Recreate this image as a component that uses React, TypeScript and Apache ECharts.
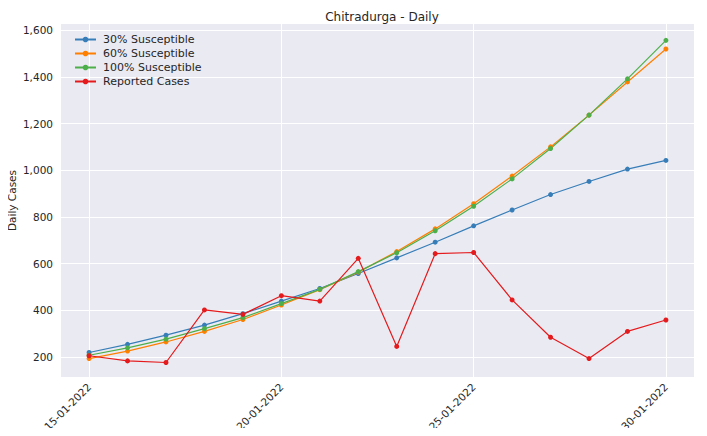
import React, { useEffect, useRef } from "react";
import * as echarts from "echarts";

const dates = [
  "15-01-2022", "16-01-2022", "17-01-2022", "18-01-2022", "19-01-2022", "20-01-2022",
  "21-01-2022", "22-01-2022", "23-01-2022", "24-01-2022", "25-01-2022", "26-01-2022",
  "27-01-2022", "28-01-2022", "29-01-2022", "30-01-2022",
];
const sus30 = [220, 255, 294, 337, 386, 440, 494, 558, 625, 692, 762, 830, 896, 952, 1005, 1042];
const sus60 = [194, 226, 265, 310, 361, 423, 489, 564, 652, 749, 857, 975, 1100, 1236, 1378, 1519];
const sus100 = [208, 240, 277, 322, 369, 429, 490, 566, 647, 741, 846, 963, 1093, 1236, 1391, 1556];
const reported = [206, 184, 177, 402, 383, 463, 440, 623, 246, 643, 648, 445, 285, 194, 310, 359];
const xTicks = [0, 5, 10, 15];
const yTicks = [200, 400, 600, 800, 1000, 1200, 1400, 1600];

const seriesDefs = [
  { name: "30% Susceptible", data: sus30, color: "#377eb8" },
  { name: "60% Susceptible", data: sus60, color: "#ff7f00" },
  { name: "100% Susceptible", data: sus100, color: "#4daf4a" },
  { name: "Reported Cases", data: reported, color: "#e41a1c" },
];

export default function App() {
  const ref = useRef<HTMLDivElement>(null);
  useEffect(() => {
    if (!ref.current) return;
    const chart = echarts.init(ref.current, null, { renderer: "svg" });
    const font = "DejaVu Sans";
    chart.setOption({
      animation: false,
      textStyle: { fontFamily: font },
      title: {
        text: "Chitradurga - Daily",
        left: 377,
        textAlign: "center",
        top: 6,
        textStyle: { fontFamily: font, fontSize: 12, fontWeight: "normal", color: "#262626" },
      },
      legend: {
        orient: "vertical",
        left: 69,
        top: 29,
        itemWidth: 21,
        itemHeight: 7,
        itemGap: 3,
        textStyle: { fontFamily: font, fontSize: 11, color: "#262626", padding: [0, 0, 0, 2] },
        data: seriesDefs.map((s) => s.name),
      },
      grid: {
        left: 61,
        right: 13,
        top: 24,
        bottom: 59,
        show: true,
        backgroundColor: "#EAEAF2",
        borderWidth: 0,
        containLabel: false,
        outerBoundsMode: "none",
      },
      xAxis: {
        type: "value",
        min: -0.73,
        max: 15.73,
        axisLine: { show: false },
        axisTick: { show: false, customValues: xTicks },
        axisLabel: {
          customValues: xTicks,
          rotate: 45,
          fontFamily: font,
          fontSize: 10.5,
          color: "#262626",
          margin: 8,
          formatter: (v: number) => dates[Math.round(v)] ?? "",
        },
        splitLine: { show: true, lineStyle: { color: "#ffffff", width: 1 } },
      },
      yAxis: {
        type: "value",
        min: 115,
        max: 1626,
        name: "Daily Cases",
        nameLocation: "middle",
        nameGap: 44,
        nameRotate: 90,
        nameMoveOverlap: false,
        nameTextStyle: { fontFamily: font, fontSize: 10.5, color: "#262626" },
        axisLine: { show: false },
        axisTick: { show: false, customValues: yTicks },
        axisLabel: {
          customValues: yTicks,
          fontFamily: font,
          fontSize: 10.5,
          color: "#262626",
          margin: 8,
          formatter: (v: number) => v.toLocaleString("en-US"),
        },
        splitLine: { show: true, lineStyle: { color: "#ffffff", width: 1 } },
      },
      series: seriesDefs.map((s) => ({
        name: s.name,
        type: "line",
        data: s.data.map((v, i) => [i, v]),
        symbol: "circle",
        symbolSize: 5,
        showSymbol: true,
        itemStyle: { color: s.color },
        lineStyle: { color: s.color, width: 1.2 },
        emphasis: { disabled: true },
      })),
    });
    return () => chart.dispose();
  }, []);
  return <div ref={ref} style={{ width: 707, height: 436, margin: -8 }} />;
}
